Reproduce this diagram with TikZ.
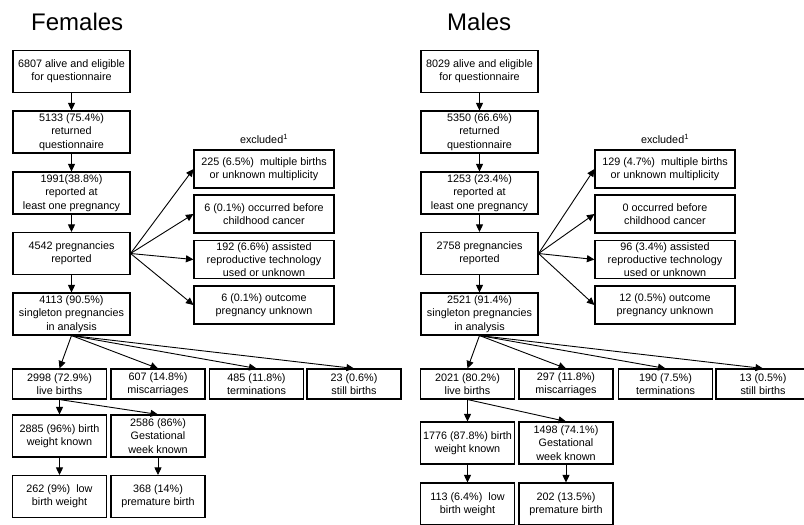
\documentclass[tikz,border=0pt]{standalone}
\usepackage{fontspec}
\setmainfont{Liberation Sans}
\usetikzlibrary{arrows.meta}

\begin{document}
\begin{tikzpicture}[x=1pt, y=-1pt,
  box/.style={draw, line width=1.1pt, align=center, inner sep=0pt,
    font=\fontsize{10.8}{13.3}\selectfont},
  mainbox/.style={box, minimum width=117pt, minimum height=42pt},
  exbox/.style={box, minimum width=140pt, minimum height=38pt},
  outbox/.style={box, minimum width=94pt, minimum height=30pt},
  subbox/.style={box, minimum width=94pt, minimum height=42pt},
  arr/.style={-{Triangle[length=7.5pt,width=7pt]}, line width=0.9pt},
  title/.style={anchor=base west, inner sep=0pt, font=\fontsize{24}{28}\selectfont}]
  \useasboundingbox (0,0) rectangle (804,525);
  % Females
  \node[title] at (31,30) (ftitle) {Females};
  \node[mainbox] at (71.5,71.5) (fA) {6807 alive and eligible\\for questionnaire};
  \node[mainbox] at (71.5,132) (fB) {5133 (75.4\%)\\returned\\questionnaire};
  \node[mainbox] at (71.5,193) (fC) {1991(38.8\%)\\reported at\\least one pregnancy};
  \node[mainbox] at (71.5,253.5) (fD) {4542 pregnancies\\reported};
  \node[mainbox] at (71.5,314) (fE) {4113 (90.5\%)\\singleton pregnancies\\in analysis};
  % Females excluded
  \node[box, draw=none] at (264,139) (fX) {excluded\textsuperscript{1}};
  \node[exbox] at (264,169) (fX1) {225 (6.5\%)~ multiple births\\or unknown multiplicity};
  \node[exbox] at (264,214) (fX2) {6 (0.1\%) occurred before\\childhood cancer};
  \node[exbox] at (264,259.5) (fX3) {192 (6.6\%) assisted\\reproductive technology\\used or unknown};
  \node[exbox] at (264,305) (fX4) {6 (0.1\%) outcome\\pregnancy unknown};
  % Females outcomes
  \node[outbox] at (59.5,384) (fF1) {2998 (72.9\%)\\live births};
  \node[outbox] at (158,384) (fF2) {607 (14.8\%)\\miscarriages};
  \node[outbox] at (256.5,384) (fF3) {485 (11.8\%)\\terminations};
  \node[outbox] at (354,384) (fF4) {23 (0.6\%)\\still births};
  \node[subbox] at (59.5,436) (fG1) {2885 (96\%) birth\\weight known};
  \node[subbox] at (158,436) (fG2) {2586 (86\%)\\Gestational\\week known};
  \node[subbox] at (59.5,496.5) (fH1) {262 (9\%)~ low\\birth weight};
  \node[subbox] at (158,496.5) (fH2) {368 (14\%)\\premature birth};
  % Females arrows
  \draw[arr] (fA.south) -- (fB.north);
  \draw[arr] (fB.south) -- (fC.north);
  \draw[arr] (fC.south) -- (fD.north);
  \draw[arr] (fD.south) -- (fE.north);
  \foreach \t in {fX1,fX2,fX3,fX4}
    \draw[arr] (fD.east) -- (\t.west);
  \foreach \t in {fF1,fF2,fF3,fF4}
    \draw[arr] (fE.south) -- (\t.north);
  \foreach \t in {fG1,fG2}
    \draw[arr] (fF1.south) -- (\t.north);
  \draw[arr] (fG1.south) -- (fH1.north);
  \draw[arr] (fG2.south) -- (fH2.north);
  % Males
  \node[title] at (447,30) (mtitle) {Males};
  \node[mainbox] at (479.5,71.5) (mA) {8029 alive and eligible\\for questionnaire};
  \node[mainbox] at (479.5,132) (mB) {5350 (66.6\%)\\returned\\questionnaire};
  \node[mainbox] at (479.5,193) (mC) {1253 (23.4\%)\\reported at\\least one pregnancy};
  \node[mainbox] at (479.5,253.5) (mD) {2758 pregnancies\\reported};
  \node[mainbox] at (479.5,314) (mE) {2521 (91.4\%)\\singleton pregnancies\\in analysis};
  % Males excluded
  \node[box, draw=none] at (665,139) (mX) {excluded\textsuperscript{1}};
  \node[exbox] at (665,169) (mX1) {129 (4.7\%)~ multiple births\\or unknown multiplicity};
  \node[exbox] at (665,214) (mX2) {0 occurred before\\childhood cancer};
  \node[exbox] at (665,259.5) (mX3) {96 (3.4\%) assisted\\reproductive technology\\used or unknown};
  \node[exbox] at (665,305) (mX4) {12 (0.5\%) outcome\\pregnancy unknown};
  % Males outcomes
  \node[outbox] at (467.5,384) (mF1) {2021 (80.2\%)\\live births};
  \node[outbox] at (566,384) (mF2) {297 (11.8\%)\\miscarriages};
  \node[outbox] at (665.5,384) (mF3) {190 (7.5\%)\\terminations};
  \node[outbox] at (763,384) (mF4) {13 (0.5\%)\\still births};
  \node[subbox] at (467.5,443) (mG1) {1776 (87.8\%) birth\\weight known};
  \node[subbox] at (566,443) (mG2) {1498 (74.1\%)\\Gestational\\week known};
  \node[subbox] at (467.5,504) (mH1) {113 (6.4\%)~ low\\birth weight};
  \node[subbox] at (566,504) (mH2) {202 (13.5\%)\\premature birth};
  % Males arrows
  \draw[arr] (mA.south) -- (mB.north);
  \draw[arr] (mB.south) -- (mC.north);
  \draw[arr] (mC.south) -- (mD.north);
  \draw[arr] (mD.south) -- (mE.north);
  \foreach \t in {mX1,mX2,mX3,mX4}
    \draw[arr] (mD.east) -- (\t.west);
  \foreach \t in {mF1,mF2,mF3,mF4}
    \draw[arr] (mE.south) -- (\t.north);
  \foreach \t in {mG1,mG2}
    \draw[arr] (mF1.south) -- (\t.north);
  \draw[arr] (mG1.south) -- (mH1.north);
  \draw[arr] (mG2.south) -- (mH2.north);
\end{tikzpicture}
\end{document}
